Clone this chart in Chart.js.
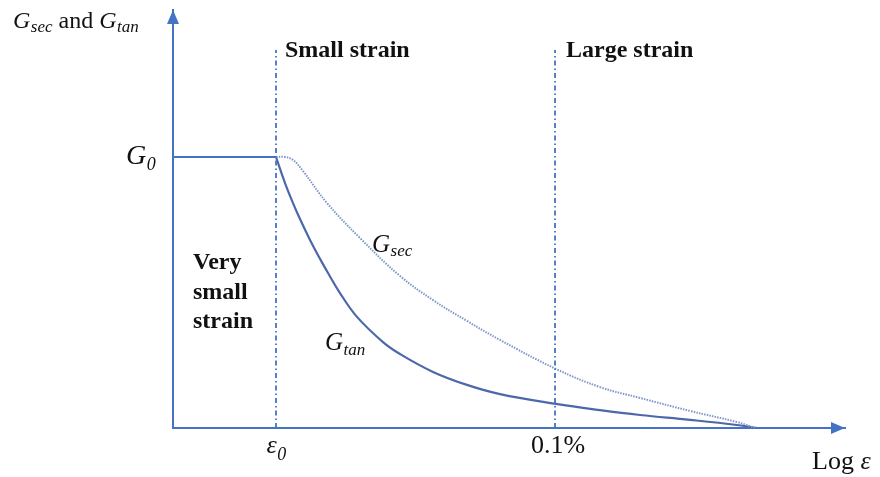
<!DOCTYPE html>
<html>
<head>
<meta charset="utf-8">
<script src="https://cdn.jsdelivr.net/npm/chart.js@4"></script>
<style>
  html, body { margin: 0; padding: 0; background: #ffffff; }
  #wrap { width: 880px; height: 477px; position: relative; }
</style>
</head>
<body>
<div id="wrap"><canvas id="c" width="880" height="477"></canvas></div>
<script>
// ---- data (x: log strain in arbitrary units, y: G / G0) ----
const eps0 = 15.33;          // position of ε0 on the log-strain axis
const pct01 = 56.85;         // position of 0.1%
const tickValues = [eps0, pct01];
const tickLabels = [['ε', '0'], ['0.1%', '']];
const regionLabels = ['Small strain', 'Large strain'];

const plateauX = [0, eps0];
const plateauG = [1, 1];

const tanX = [15.33, 16.67, 17.86, 18.90, 20.39, 21.88, 23.07, 24.85, 27.38, 31.25, 33.78, 38.69, 43.75, 48.66, 56.99, 63.54, 69.49, 76.93, 83.93, 86.90];
const Gtan = [1.000, 0.904, 0.830, 0.771, 0.694, 0.624, 0.572, 0.498, 0.410, 0.317, 0.273, 0.207, 0.159, 0.125, 0.089, 0.066, 0.048, 0.030, 0.011, 0.000];

const secX = [15.33, 16.67, 17.86, 19.35, 22.92, 27.83, 33.78, 38.69, 43.75, 48.66, 56.99, 63.54, 69.49, 76.93, 83.93, 86.61];
const Gsec = [1.000, 1.000, 0.989, 0.948, 0.830, 0.701, 0.561, 0.472, 0.395, 0.325, 0.218, 0.151, 0.111, 0.063, 0.022, 0.000];

const guideTop = 1.395;  // top of the dash-dot region separators
const xMax = 100;
const yMax = 1.5424;

const zip = (xs, ys) => xs.map((x, i) => ({ x: x, y: ys[i] }));

const AXIS = '#4472C4';
const SERIF = '"Liberation Serif", "Times New Roman", serif';

function subText(ctx, main, sub, x, y, size, subSize, drop, italicMain, italicSub, bold) {
  ctx.font = (italicMain ? 'italic ' : '') + (bold ? 'bold ' : '') + size + 'px ' + SERIF;
  ctx.fillText(main, x, y);
  const w = ctx.measureText(main).width;
  if (sub) {
    ctx.font = (italicSub ? 'italic ' : '') + subSize + 'px ' + SERIF;
    ctx.fillText(sub, x + w + 0.5, y + drop);
    return w + 0.5 + ctx.measureText(sub).width;
  }
  return w;
}

const decor = {
  id: 'decor',
  afterDraw(chart) {
    const ctx = chart.ctx;
    const xs = chart.scales.x;
    const area = chart.chartArea;
    ctx.save();
    // arrowheads
    ctx.fillStyle = AXIS;
    ctx.beginPath();
    ctx.moveTo(area.left, area.top);
    ctx.lineTo(area.left - 6, area.top + 14);
    ctx.lineTo(area.left + 6, area.top + 14);
    ctx.closePath();
    ctx.fill();
    ctx.beginPath();
    ctx.moveTo(area.right, area.bottom);
    ctx.lineTo(area.right - 14, area.bottom - 6);
    ctx.lineTo(area.right - 14, area.bottom + 6);
    ctx.closePath();
    ctx.fill();

    ctx.fillStyle = '#111111';
    ctx.textBaseline = 'alphabetic';
    ctx.textAlign = 'left';

    // tick labels
    tickValues.forEach((v, i) => {
      const px = xs.getPixelForValue(v);
      const [m, s] = tickLabels[i];
      if (s) {
        ctx.font = 'italic 26px ' + SERIF;
        const w1 = ctx.measureText(m).width;
        ctx.font = 'italic 18px ' + SERIF;
        const w2 = ctx.measureText(s).width;
        subText(ctx, m, s, px - (w1 + w2) / 2, 453, 26, 18, 7, true, true);
      } else {
        ctx.font = '26px ' + SERIF;
        const w = ctx.measureText(m).width;
        ctx.fillText(m, px - w / 2 + 3, 453);
      }
    });

    // axis titles
    let x0 = 13;
    x0 += subText(ctx, 'G', 'sec', x0, 28, 24, 17, 4, true, true);
    ctx.font = '24px ' + SERIF;
    ctx.fillText(' and ', x0, 28);
    x0 += ctx.measureText(' and ').width;
    subText(ctx, 'G', 'tan', x0, 28, 24, 17, 4, true, true);

    ctx.font = '26px ' + SERIF;
    ctx.fillText('Log ', 812, 469);
    const lw = ctx.measureText('Log ').width;
    ctx.font = 'italic 26px ' + SERIF;
    ctx.fillText('ε', 812 + lw, 469);

    // G0 level label
    subText(ctx, 'G', '0', 126, 164, 28, 18, 6, true, true);

    // region labels
    ctx.font = 'bold 24px ' + SERIF;
    ctx.fillText(regionLabels[0], xs.getPixelForValue(eps0) + 9, 57);
    ctx.fillText(regionLabels[1], xs.getPixelForValue(pct01) + 11, 57);
    ctx.fillText('Very', 193, 269);
    ctx.fillText('small', 193, 299);
    ctx.fillText('strain', 193, 328);

    // curve labels
    subText(ctx, 'G', 'sec', 372, 252, 25, 17, 4, true, true);
    subText(ctx, 'G', 'tan', 325, 350, 25, 17, 5, true, true);
    ctx.restore();
  }
};

new Chart(document.getElementById('c'), {
  type: 'line',
  data: {
    datasets: [
      { data: zip(plateauX, plateauG), borderColor: AXIS, borderWidth: 2, pointRadius: 0 },
      { data: zip([eps0, eps0], [0, guideTop]), borderColor: AXIS, borderWidth: 1.8, borderDash: [5, 3, 1.5, 3], pointRadius: 0 },
      { data: zip([pct01, pct01], [0, guideTop]), borderColor: AXIS, borderWidth: 1.8, borderDash: [5, 3, 1.5, 3], pointRadius: 0 },
      { data: zip(secX, Gsec), borderColor: '#7f96c9', borderWidth: 2, borderDash: [1.5, 1.2], pointRadius: 0, tension: 0.4 },
      { data: zip(tanX, Gtan), borderColor: '#4d68aa', borderWidth: 2.2, pointRadius: 0, tension: 0.4 }
    ]
  },
  options: {
    responsive: false,
    animation: false,
    events: [],
    layout: { padding: { top: 10, right: 35, left: 0, bottom: 0 } },
    plugins: { legend: { display: false }, tooltip: { enabled: false } },
    scales: {
      x: {
        type: 'linear', min: 0, max: xMax,
        grid: { display: false },
        ticks: { display: false },
        border: { display: true, color: AXIS, width: 2 },
        afterFit(s) { s.height = 49; }
      },
      y: {
        type: 'linear', min: 0, max: yMax,
        grid: { display: false },
        ticks: { display: false },
        border: { display: true, color: AXIS, width: 2 },
        afterFit(s) { s.width = 173; }
      }
    }
  },
  plugins: [decor]
});
</script>
</body>
</html>
